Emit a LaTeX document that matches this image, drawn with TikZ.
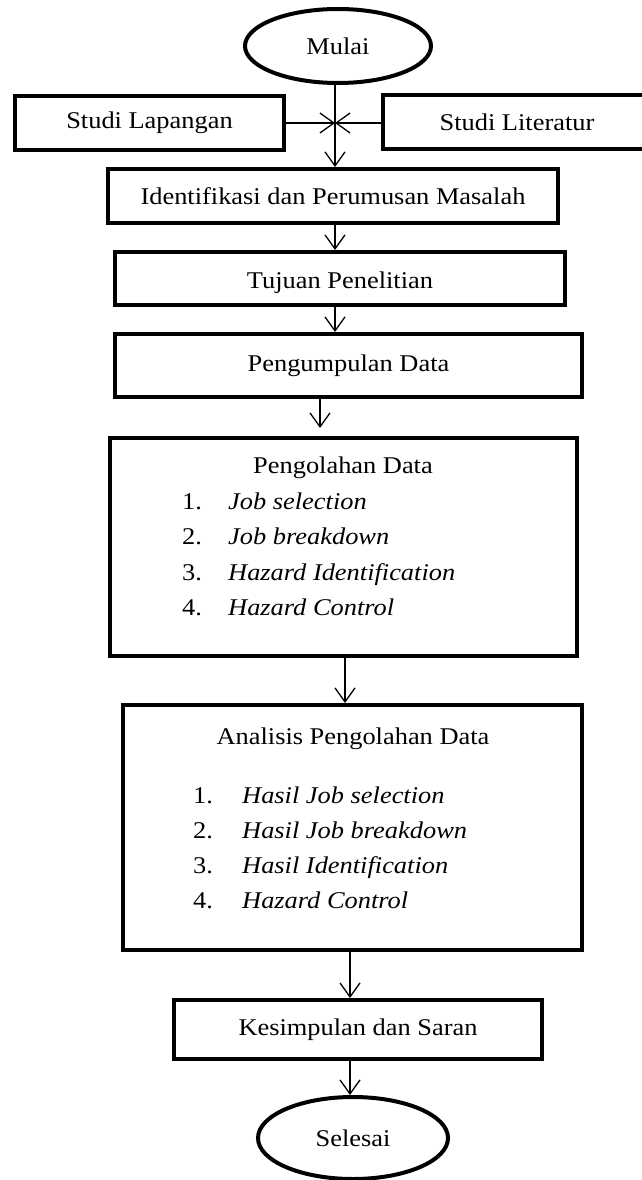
\documentclass[tikz,border=0pt]{standalone}
\usepackage{fontspec}
\setmainfont{Liberation Serif}[FakeStretch=1.1]
\usetikzlibrary{arrows.meta,shapes.geometric}
\begin{document}
\begin{tikzpicture}[x=1pt,y=-1pt,
  lbl/.style={font=\fontsize{24}{28}\selectfont},
  box/.style={draw, rectangle, line width=4pt, inner sep=0pt, lbl},
  oval/.style={draw, ellipse, line width=4pt, inner sep=0pt, lbl},
  arr/.style={line width=1.3pt, -{Straight Barb[length=14pt,width=20pt]}},
  itemtxt/.style={lbl, anchor=west, inner sep=0pt, text height=17pt, text depth=5pt},
  ttl/.style={lbl, inner sep=0pt, text height=17pt, text depth=5pt}]
\useasboundingbox (0,0) rectangle (641,1180);
% start
\node[oval, minimum width=186pt, minimum height=74pt] (mulai) at (338,46) {Mulai};
\node[box, minimum width=269pt, minimum height=53pt] (lap) at (149.5,123) {Studi Lapangan};
\node[box, minimum width=320pt, minimum height=53pt] (lit) at (543,122) {};
\node[lbl, inner sep=0pt] (litt) at (517,122) {Studi Literatur};
\coordinate (cross) at (335,123);
\node[box, minimum width=450pt, minimum height=54pt] (iden) at (333,196) {Identifikasi dan Perumusan Masalah};
\node[box, minimum width=450pt, minimum height=53pt] (tuj) at (340,278.5) {};
\node[lbl, inner sep=0pt] (tujt) at (340,283) {Tujuan Penelitian};
\node[box, minimum width=467pt, minimum height=63pt] (kum) at (348.5,365.5) {Pengumpulan Data};
% Pengolahan
\node[box, minimum width=467pt, minimum height=218pt] (olah) at (343.5,547) {};
\node[ttl] (olaht) at (343,467) {Pengolahan Data};
\node[itemtxt] (on1) at (182,503) {1.};
\node[itemtxt] (on2) at (182,538) {2.};
\node[itemtxt] (on3) at (182,574) {3.};
\node[itemtxt] (on4) at (182,609) {4.};
\node[itemtxt] (oi1) at (228,503) {\itshape Job selection};
\node[itemtxt] (oi2) at (228,538) {\itshape Job breakdown};
\node[itemtxt] (oi3) at (228,574) {\itshape Hazard Identification};
\node[itemtxt] (oi4) at (228,609) {\itshape Hazard Control};
% Analisis
\node[box, minimum width=459pt, minimum height=245pt] (anal) at (352.5,827.5) {};
\node[ttl] (analt) at (353,738) {Analisis Pengolahan Data};
\node[itemtxt] (an1) at (193,797) {1.};
\node[itemtxt] (an2) at (193,832) {2.};
\node[itemtxt] (an3) at (193,867) {3.};
\node[itemtxt] (an4) at (193,902) {4.};
\node[itemtxt] (ai1) at (242,797) {\itshape Hasil Job selection};
\node[itemtxt] (ai2) at (242,832) {\itshape Hasil Job breakdown};
\node[itemtxt] (ai3) at (242,867) {\itshape Hasil Identification};
\node[itemtxt] (ai4) at (242,902) {\itshape Hazard Control};
% end
\node[box, minimum width=368pt, minimum height=59pt] (kes) at (358,1029.5) {Kesimpulan dan Saran};
\node[oval, minimum width=190pt, minimum height=82pt] (sel) at (353,1138) {Selesai};
% x positions of connectors
\coordinate (xa) at (335,0);
\coordinate (xb) at (320,0);
\coordinate (xc) at (345,0);
\coordinate (xd) at (350,0);
% connectors
\draw[arr] (lap.east |- cross) -- (cross);
\draw[arr] (lit.west |- cross) -- (cross);
\draw[arr] (mulai.south -| cross) -- (iden.north -| cross);
\draw[arr] (iden.south -| xa) -- (tuj.north -| xa);
\draw[arr] (tuj.south -| xa) -- (kum.north -| xa);
\draw[arr, shorten >=8pt] (kum.south -| xb) -- (olah.north -| xb);
\draw[arr] (olah.south -| xc) -- (anal.north -| xc);
\draw[arr] (anal.south -| xd) -- (kes.north -| xd);
\draw[arr] (kes.south -| xd) -- (sel.north -| xd);
\end{tikzpicture}
\end{document}
